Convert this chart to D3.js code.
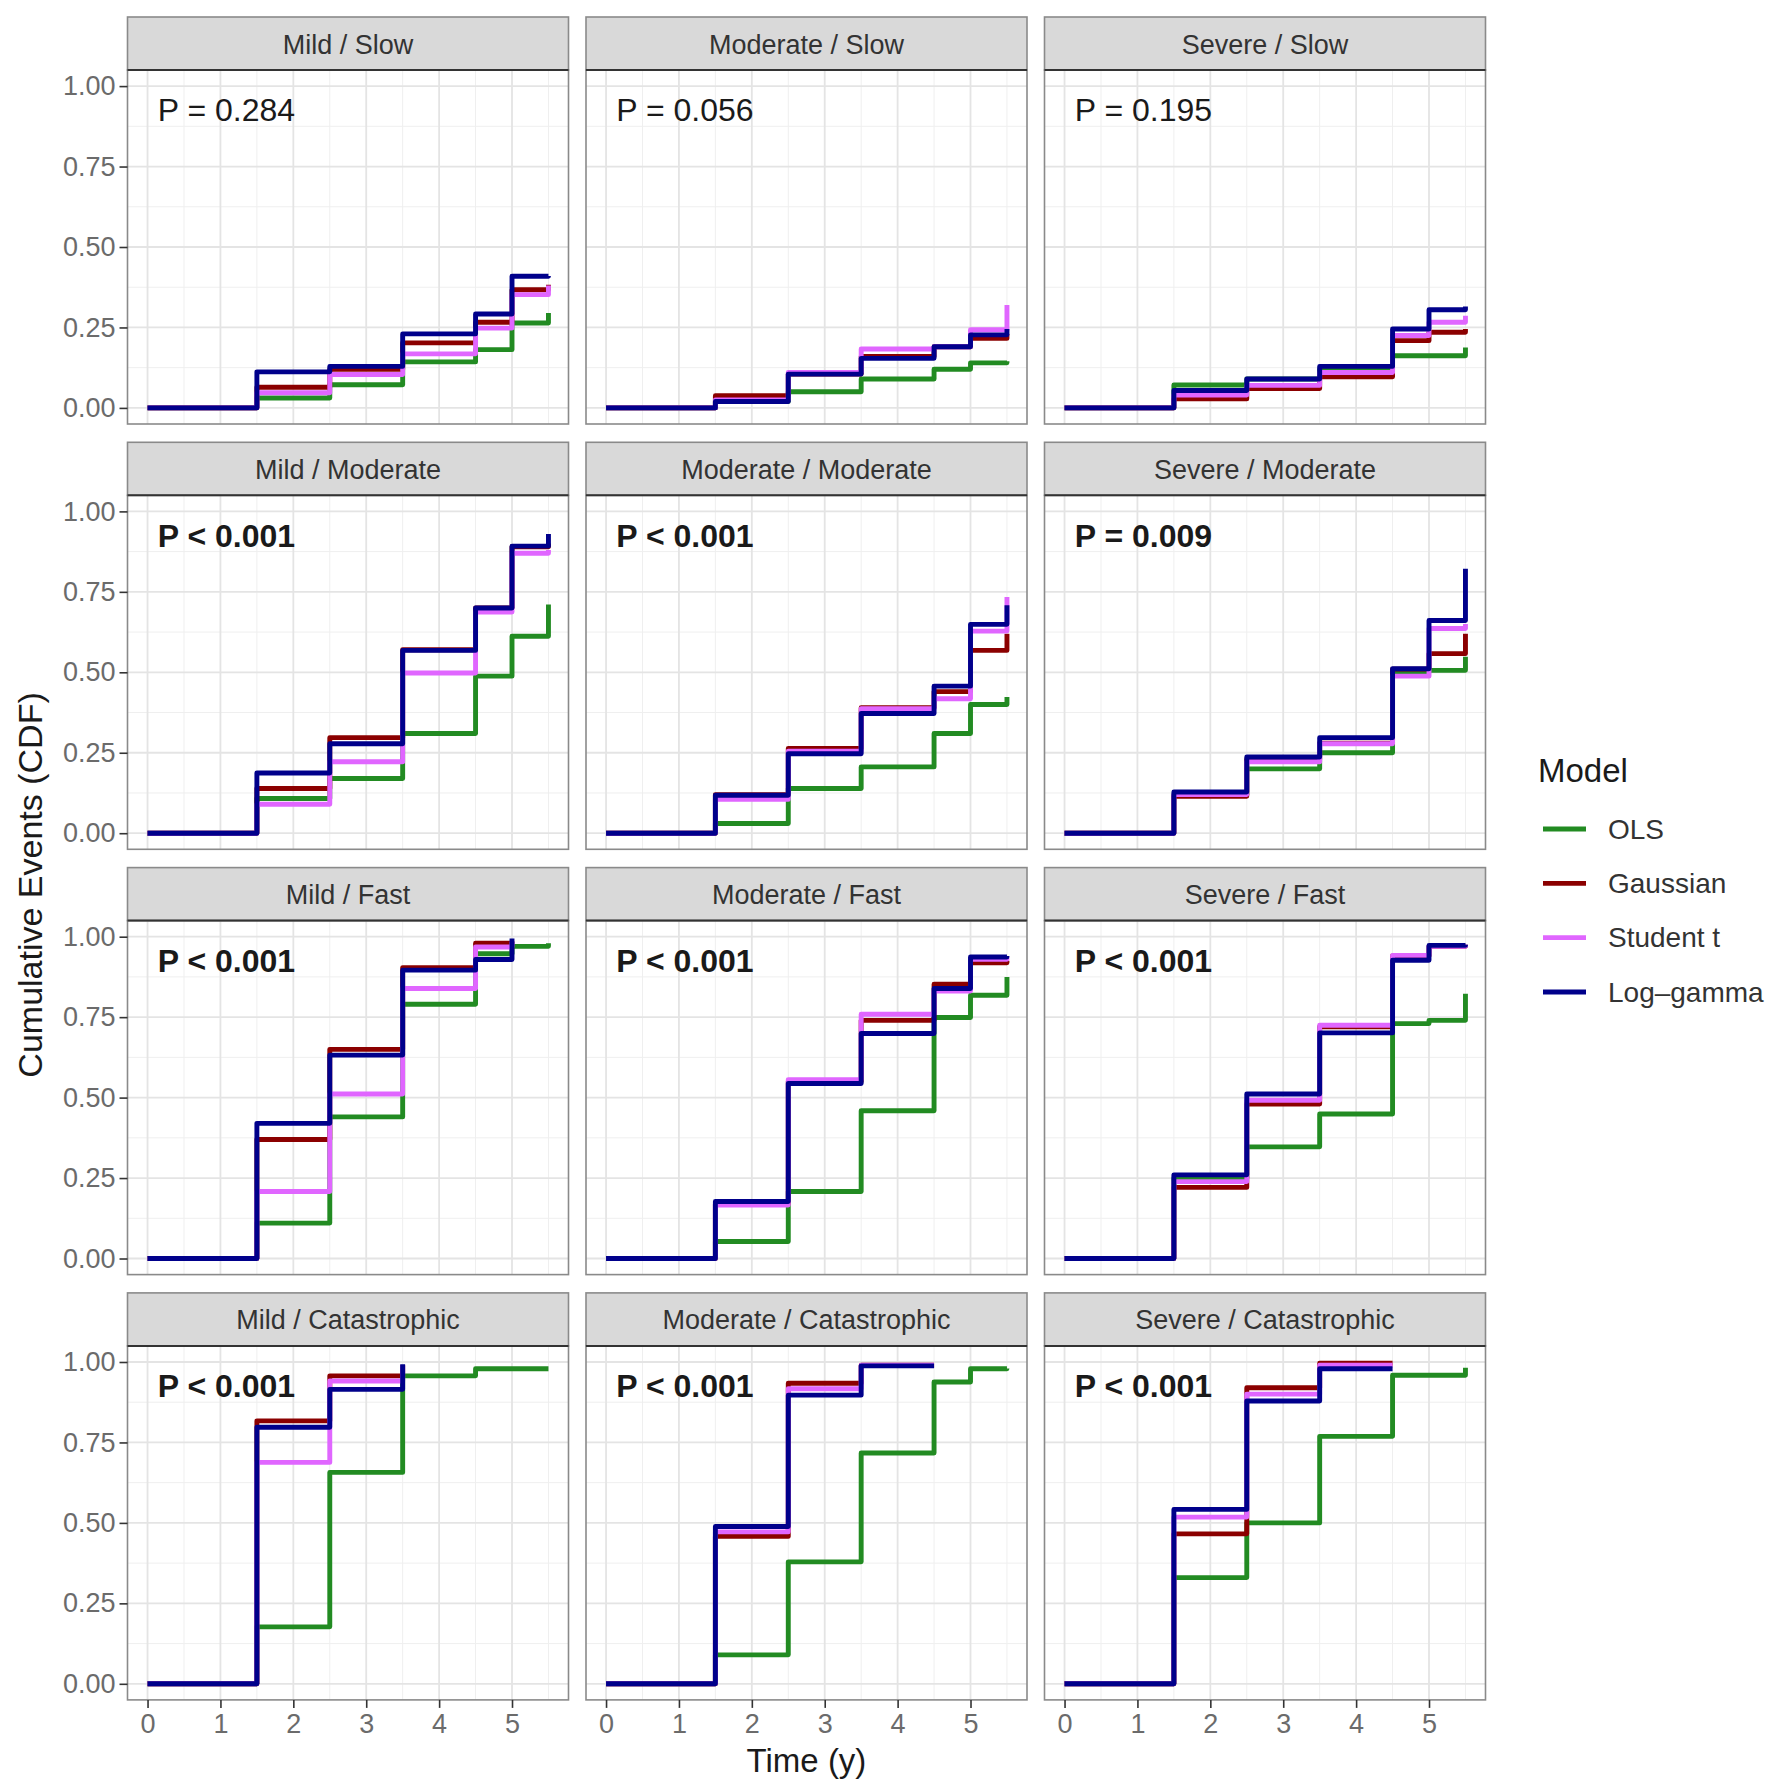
<!DOCTYPE html>
<html>
<head>
<meta charset="utf-8">
<script src="https://cdn.jsdelivr.net/npm/d3@7"></script>
<style>
  body { margin: 0; background: #ffffff; }
  text { font-family: "Liberation Sans", Arial, Helvetica, sans-serif; }
</style>
</head>
<body>
<svg id="chart" width="1772" height="1783"></svg>
<script>
// ---------------- DATA ----------------
const severities = ["Mild", "Moderate", "Severe"];
const speeds = ["Slow", "Moderate", "Fast", "Catastrophic"];
const models = ["OLS", "Gaussian", "Student t", "Log\u2013gamma"];
const timePoints = [0, 1.5, 2.5, 3.5, 4.5, 5, 5.5];
const xTicks = [0, 1, 2, 3, 4, 5];
const yTicks = [0, 0.25, 0.5, 0.75, 1];

// P-value labels, panels in row-major order (speed rows x severity columns)
const pLabels = [
  "P = 0.284", "P = 0.056", "P = 0.195",
  "P < 0.001", "P < 0.001", "P = 0.009",
  "P < 0.001", "P < 0.001", "P < 0.001",
  "P < 0.001", "P < 0.001", "P < 0.001"
];

// Cumulative events at timePoints (series may end early)
const olsValues = [
  [0, 0.031, 0.072, 0.143, 0.181, 0.264, 0.295],
  [0, 0.020, 0.050, 0.090, 0.120, 0.140, 0.145],
  [0, 0.071, 0.090, 0.120, 0.162, 0.162, 0.188],
  [0, 0.108, 0.170, 0.310, 0.488, 0.612, 0.711],
  [0, 0.030, 0.139, 0.206, 0.310, 0.400, 0.423],
  [0, 0.120, 0.200, 0.250, 0.500, 0.506, 0.548],
  [0, 0.110, 0.440, 0.790, 0.947, 0.970, 0.980],
  [0, 0.053, 0.208, 0.459, 0.749, 0.818, 0.875],
  [0, 0.250, 0.347, 0.449, 0.730, 0.740, 0.823],
  [0, 0.177, 0.657, 0.957, 0.979, 0.979, 0.979],
  [0, 0.090, 0.379, 0.717, 0.938, 0.979, 0.980],
  [0, 0.330, 0.500, 0.769, 0.959, 0.959, 0.982]
];
const gaussianValues = [
  [0, 0.064, 0.120, 0.202, 0.266, 0.367, 0.383],
  [0, 0.038, 0.105, 0.160, 0.190, 0.216, 0.230],
  [0, 0.028, 0.060, 0.097, 0.209, 0.235, 0.245],
  [0, 0.139, 0.297, 0.570, 0.700, 0.890, 0.900],
  [0, 0.120, 0.263, 0.390, 0.440, 0.568, 0.620],
  [0, 0.115, 0.230, 0.280, 0.510, 0.558, 0.620],
  [0, 0.370, 0.650, 0.904, 0.980, 0.985],
  [0, 0.170, 0.550, 0.740, 0.852, 0.919, 0.925],
  [0, 0.221, 0.480, 0.720, 0.940, 0.970, 0.975],
  [0, 0.817, 0.957, 0.990],
  [0, 0.458, 0.934, 0.990, 0.990],
  [0, 0.466, 0.920, 0.996, 0.996]
];
const studentValues = [
  [0, 0.047, 0.104, 0.168, 0.248, 0.352, 0.380],
  [0, 0.025, 0.110, 0.183, 0.190, 0.243, 0.320],
  [0, 0.040, 0.070, 0.110, 0.225, 0.266, 0.286],
  [0, 0.090, 0.222, 0.498, 0.687, 0.870, 0.880],
  [0, 0.105, 0.255, 0.387, 0.418, 0.628, 0.734],
  [0, 0.120, 0.222, 0.278, 0.488, 0.636, 0.650],
  [0, 0.208, 0.511, 0.839, 0.968, 0.985],
  [0, 0.166, 0.556, 0.759, 0.831, 0.930, 0.935],
  [0, 0.239, 0.492, 0.725, 0.942, 0.970, 0.975],
  [0, 0.688, 0.941, 0.990],
  [0, 0.472, 0.917, 0.990, 0.990],
  [0, 0.518, 0.900, 0.990, 0.990]
];
const loggammaValues = [
  [0, 0.112, 0.129, 0.230, 0.292, 0.409, 0.410],
  [0, 0.020, 0.105, 0.154, 0.190, 0.227, 0.245],
  [0, 0.054, 0.090, 0.129, 0.245, 0.305, 0.315],
  [0, 0.187, 0.278, 0.568, 0.700, 0.892, 0.930],
  [0, 0.118, 0.247, 0.372, 0.457, 0.649, 0.708],
  [0, 0.128, 0.237, 0.297, 0.511, 0.661, 0.822],
  [0, 0.420, 0.632, 0.896, 0.929, 0.994],
  [0, 0.177, 0.544, 0.699, 0.839, 0.937, 0.940],
  [0, 0.260, 0.511, 0.701, 0.927, 0.973, 0.975],
  [0, 0.797, 0.915, 0.993],
  [0, 0.489, 0.897, 0.988, 0.988],
  [0, 0.542, 0.879, 0.979, 0.979]
];

// ---------------- STYLE / LAYOUT ----------------
const modelColors = ["#228B22", "#8B0000", "#E066FF", "#00008B"];
const seriesByModel = [olsValues, gaussianValues, studentValues, loggammaValues];

const colLeft = [127.5, 586, 1044.5];
const panelW = 441;
const stripTop0 = 17;
const rowPitch = 425.3;
const stripH = 53;
const panelH = 354;
const lineW = 4.9;

const svg = d3.select("#chart");
svg.append("rect").attr("width", 1772).attr("height", 1783).attr("fill", "#ffffff");

const lineGen = d3.line().curve(d3.curveStepAfter);

speeds.forEach((sp, r) => {
  severities.forEach((sv, c) => {
    const idx = r * 3 + c;
    const left = colLeft[c];
    const stripTop = stripTop0 + r * rowPitch;
    const top = stripTop + stripH;
    const x = d3.scaleLinear().domain([-0.275, 5.775]).range([left, left + panelW]);
    const y = d3.scaleLinear().domain([-0.05, 1.05]).range([top + panelH, top]);
    const g = svg.append("g");

    // panel background
    g.append("rect").attr("x", left).attr("y", top).attr("width", panelW).attr("height", panelH)
      .attr("fill", "#ffffff");

    // minor grid
    const xMinor = d3.range(0.5, 5.51, 1);
    const yMinor = [0.125, 0.375, 0.625, 0.875];
    g.selectAll(null).data(xMinor).join("line")
      .attr("x1", d => x(d)).attr("x2", d => x(d)).attr("y1", top).attr("y2", top + panelH)
      .attr("stroke", "#efefef").attr("stroke-width", 1);
    g.selectAll(null).data(yMinor).join("line")
      .attr("x1", left).attr("x2", left + panelW).attr("y1", d => y(d)).attr("y2", d => y(d))
      .attr("stroke", "#efefef").attr("stroke-width", 1);
    // major grid
    g.selectAll(null).data(xTicks).join("line")
      .attr("x1", d => x(d)).attr("x2", d => x(d)).attr("y1", top).attr("y2", top + panelH)
      .attr("stroke", "#e4e4e4").attr("stroke-width", 1.8);
    g.selectAll(null).data(yTicks).join("line")
      .attr("x1", left).attr("x2", left + panelW).attr("y1", d => y(d)).attr("y2", d => y(d))
      .attr("stroke", "#e4e4e4").attr("stroke-width", 1.8);

    // step lines
    seriesByModel.forEach((arr, m) => {
      const vals = arr[idx];
      const pts = vals.map((v, i) => [x(timePoints[i]), y(v)]);
      g.append("path").attr("d", lineGen(pts))
        .attr("fill", "none").attr("stroke", modelColors[m])
        .attr("stroke-width", lineW).attr("stroke-linejoin", "round").attr("stroke-linecap", "butt");
    });

    // p-value annotation
    const lab = pLabels[idx];
    const pNum = parseFloat(lab.replace(/[^0-9.]/g, ""));
    const bold = lab.includes("<") || pNum < 0.05;
    g.append("text").attr("x", x(0.14)).attr("y", y(0.925))
      .attr("dominant-baseline", "central")
      .attr("font-size", 32).attr("font-weight", bold ? "bold" : "normal")
      .attr("fill", "#1a1a1a").text(lab);

    // panel border
    g.append("rect").attr("x", left).attr("y", top).attr("width", panelW).attr("height", panelH)
      .attr("fill", "none").attr("stroke", "#8a8a8a").attr("stroke-width", 1.6);

    // strip
    g.append("rect").attr("x", left).attr("y", stripTop).attr("width", panelW).attr("height", stripH)
      .attr("fill", "#d9d9d9").attr("stroke", "#8a8a8a").attr("stroke-width", 1.6);
    g.append("line").attr("x1", left).attr("x2", left + panelW).attr("y1", top).attr("y2", top)
      .attr("stroke", "#333333").attr("stroke-width", 2);
    g.append("text").attr("x", left + panelW / 2).attr("y", stripTop + stripH / 2 + 1)
      .attr("text-anchor", "middle").attr("dominant-baseline", "central")
      .attr("font-size", 27).attr("fill", "#333333").text(sv + " / " + sp);

    // y axis on first column
    if (c === 0) {
      const ax = g.append("g").attr("transform", `translate(${left},0)`)
        .call(d3.axisLeft(y).tickValues(yTicks).tickFormat(d3.format(".2f")).tickSize(8).tickPadding(4));
      ax.select(".domain").remove();
      ax.selectAll(".tick line").attr("stroke", "#333333").attr("stroke-width", 1.6);
      ax.selectAll(".tick text").attr("font-size", 27).attr("fill", "#6b6b6b")
        .attr("font-family", "\"Liberation Sans\", Arial, sans-serif");
    }
    // x axis on bottom row
    if (r === speeds.length - 1) {
      const ax = g.append("g").attr("transform", `translate(0,${top + panelH})`)
        .call(d3.axisBottom(x).tickValues(xTicks).tickFormat(d3.format("d")).tickSize(8).tickPadding(6));
      ax.select(".domain").remove();
      ax.selectAll(".tick line").attr("stroke", "#333333").attr("stroke-width", 1.6);
      ax.selectAll(".tick text").attr("font-size", 27).attr("fill", "#6b6b6b")
        .attr("font-family", "\"Liberation Sans\", Arial, sans-serif");
    }
  });
});

// axis titles
const panelsTop = stripTop0 + stripH;
const panelsBottom = stripTop0 + 3 * rowPitch + stripH + panelH;
svg.append("text")
  .attr("transform", `translate(30,${(panelsTop + panelsBottom) / 2}) rotate(-90)`)
  .attr("text-anchor", "middle").attr("dominant-baseline", "central")
  .attr("font-size", 34).attr("fill", "#1a1a1a").text("Cumulative Events (CDF)");
svg.append("text")
  .attr("x", (colLeft[0] + colLeft[2] + panelW) / 2).attr("y", 1772)
  .attr("text-anchor", "middle")
  .attr("font-size", 33).attr("fill", "#1a1a1a").text("Time (y)");

// legend
const legend = svg.append("g");
legend.append("text").attr("x", 1538).attr("y", 782).attr("font-size", 33).attr("fill", "#1a1a1a").text("Model");
const legendY = d3.scalePoint().domain(models).range([829, 992]);
models.forEach((m, i) => {
  legend.append("line").attr("x1", 1543).attr("x2", 1586)
    .attr("y1", legendY(m)).attr("y2", legendY(m))
    .attr("stroke", modelColors[i]).attr("stroke-width", lineW);
  legend.append("text").attr("x", 1608).attr("y", legendY(m))
    .attr("dominant-baseline", "central").attr("font-size", 28).attr("fill", "#333333").text(m);
});
</script>
</body>
</html>
